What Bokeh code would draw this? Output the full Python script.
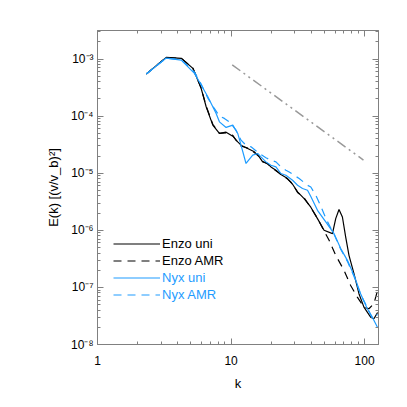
from bokeh.plotting import figure
from bokeh.models import (LogAxis, FixedTicker, CustomJSTickFormatter, Legend, LegendItem, Range1d)
from bokeh.embed import file_html
from bokeh.resources import INLINE

# ---- data ----
enzo_uni_k = [2.32, 3.27, 4.24, 5.18, 5.97, 6.51, 7.30, 8.18, 9.18, 10.30, 11.22, 11.87, 13.32, 14.93,
              16.26, 17.24, 18.79, 19.88, 21.67, 23.61, 26.49, 28.87, 31.46, 35.24, 39.54, 44.36, 49.69,
              57.41, 60.75, 64.29, 68.17, 72.15, 76.35, 83.21, 90.68, 98.8, 110.9, 117.3, 125.0]
enzo_uni_E = [5.46e-4, 1.07e-3, 1.03e-3, 6.87e-4, 3.06e-4, 1.46e-4, 6.95e-5, 4.97e-5, 5.24e-5, 4.46e-5,
              3.54e-5, 3.10e-5, 2.71e-5, 2.37e-5, 1.93e-5, 1.58e-5, 1.48e-5, 1.29e-5, 1.13e-5, 9.48e-6,
              8.07e-6, 6.41e-6, 4.70e-6, 3.60e-6, 2.54e-6, 1.60e-6, 1.0e-6, 8.75e-7, 1.60e-6, 2.31e-6,
              1.71e-6, 7.62e-7, 3.64e-7, 1.74e-7, 7.75e-8, 4.51e-8, 3.01e-8, 2.83e-8, 3.64e-8]

enzo_amr_k = [2.32, 3.27, 4.24, 5.18, 5.97, 6.51, 7.30, 8.18, 9.18, 10.30, 11.22, 11.87, 13.32, 14.93,
              16.26, 17.24, 18.79, 19.88, 21.67, 23.61, 26.49, 28.87, 31.46, 35.24, 39.54, 44.36, 48.6,
              54.2, 60.75, 70.1, 78.6, 88.2, 98.8, 107.7, 117.3, 125.0]
enzo_amr_E = [5.46e-4, 1.07e-3, 1.03e-3, 6.9e-4, 3.1e-4, 1.5e-4, 7.2e-5, 5.0e-5, 5.1e-5, 4.6e-5,
              3.4e-5, 3.0e-5, 2.75e-5, 2.3e-5, 1.95e-5, 1.62e-5, 1.45e-5, 1.3e-5, 1.1e-5, 9.6e-6,
              7.9e-6, 6.5e-6, 4.6e-6, 3.7e-6, 2.5e-6, 1.62e-6, 1.08e-6,
              6.68e-7, 3.64e-7, 1.99e-7, 1.08e-7, 6.76e-8, 4.51e-8, 4.23e-8, 5.18e-8, 8.86e-8]

nyx_uni_k = [2.32, 3.27, 4.24, 5.32, 5.97, 6.70, 7.73, 8.18, 9.18, 10.30, 11.22, 11.87, 12.94, 14.52,
             15.82, 16.74, 18.24, 19.88, 21.67, 23.61, 25.73, 28.87, 31.46, 34.28, 37.36, 39.54, 44.36,
             51.17, 59.0, 66.2, 74.3, 83.21, 93.3, 104.7, 114.2, 125.0]
nyx_uni_E = [5.46e-4, 1.04e-3, 9.59e-4, 5.61e-4, 3.50e-4, 2.18e-4, 1.11e-4, 7.94e-5, 6.34e-5, 6.95e-5,
             4.97e-5, 3.10e-5, 1.48e-5, 2.07e-5, 2.22e-5, 1.93e-5, 1.58e-5, 1.38e-5, 1.29e-5, 9.89e-6,
             9.23e-6, 7.53e-6, 6.15e-6, 5.40e-6, 5.04e-6, 3.9e-6, 2.24e-6, 1.40e-6, 8.75e-7, 4.78e-7,
             2.98e-7, 1.63e-7, 7.75e-8, 4.23e-8, 3.01e-8, 1.99e-8]

nyx_amr_k = [2.32, 3.27, 4.24, 5.32, 5.97, 6.70, 7.47, 8.18, 8.91, 9.71, 10.90, 11.87, 12.94, 14.10,
             16.26, 18.24, 19.88, 21.67, 23.61, 25.73, 27.24, 32.34, 37.36, 39.54, 43.09, 46.94, 52.04,
             59.0, 66.2, 74.3, 83.21, 93.3, 104.7, 114.2, 125.0]
nyx_amr_E = [5.46e-4, 1.04e-3, 9.59e-4, 5.92e-4, 3.64e-4, 2.07e-4, 1.38e-4, 1.0e-4, 9.12e-5, 7.94e-5,
             5.67e-5, 3.79e-5, 3.10e-5, 2.90e-5, 2.22e-5, 1.87e-5, 1.69e-5, 1.58e-5, 1.29e-5, 1.13e-5,
             1.05e-5, 8.07e-6, 6.15e-6, 5.75e-6, 4.11e-6, 2.64e-6, 1.50e-6, 8.51e-7, 4.65e-7, 2.86e-7,
             1.56e-7, 7.53e-8, 4.46e-8, 2.86e-8, 3.36e-8]

ref_k = [10.2, 98.0]
ref_E = [7.9e-4, 1.7e-5]

x_major = [1, 10, 100]
y_major = [1e-8, 1e-7, 1e-6, 1e-5, 1e-4, 1e-3]
y_labels = ["10\u207b\u2078", "10\u207b\u2077", "10\u207b\u2076", "10\u207b\u2075", "10\u207b\u2074", "10\u207b\u00b3"]

# ---- figure ----
FONT = "Liberation Sans"
AX = "#808080"
BLUE = "#1e9cff"

x_minor = [m * 10 ** e for e in range(0, 3) for m in range(2, 10) if m * 10 ** e < 130]
y_minor = [m * 10.0 ** e for e in range(-8, -2) for m in range(2, 10)]

p = figure(width=399, height=399, x_axis_type="log", y_axis_type="log",
           x_range=Range1d(1, 127), y_range=Range1d(1e-8, 3.16e-3),
           output_backend="svg", toolbar_location=None,
           min_border_left=97, min_border_right=21, min_border_top=30, min_border_bottom=55)
p.grid.visible = False
p.outline_line_color = AX
p.background_fill_color = "white"
p.border_fill_color = "white"

xt = FixedTicker(ticks=x_major, minor_ticks=x_minor)
yt = FixedTicker(ticks=y_major, minor_ticks=y_minor)
blank = CustomJSTickFormatter(code="return ''")


def style(ax):
    ax.axis_line_color = AX
    ax.major_tick_line_color = AX
    ax.minor_tick_line_color = AX
    ax.major_tick_in = 6
    ax.major_tick_out = 0
    ax.minor_tick_in = 3
    ax.minor_tick_out = 0
    ax.major_label_text_font = FONT
    ax.major_label_text_font_size = "12px"
    ax.major_label_text_color = "black"
    ax.axis_label_text_font = FONT
    ax.axis_label_text_font_size = "13px"
    ax.axis_label_text_font_style = "normal"
    ax.axis_label_text_color = "black"


xa = p.xaxis[0]
xa.ticker = xt
xa.major_label_overrides = {1: "1", 10: "10", 100: "100"}
xa.axis_label = "k"
xa.major_label_standoff = 11
xa.axis_label_standoff = 8
style(xa)

ya = p.yaxis[0]
ya.ticker = yt
ya.major_label_overrides = dict(zip(y_major, y_labels))
ya.axis_label = "E(k) [(v/v_b)\u00b2]"
ya.major_label_standoff = 4
ya.axis_label_standoff = 7
style(ya)

ra = LogAxis(ticker=yt, formatter=blank)
style(ra)
ra.major_label_text_font_size = "1px"
p.add_layout(ra, "right")
ta = LogAxis(ticker=xt, formatter=blank)
style(ta)
ta.major_label_text_font_size = "1px"
p.add_layout(ta, "above")

# ---- lines ----
p.line(ref_k, ref_E, line_color="#999999", line_width=1.5, line_dash="10 4 2 4 2 4")
r_eu = p.line(enzo_uni_k, enzo_uni_E, line_color="black", line_width=1.2)
r_ea = p.line(enzo_amr_k, enzo_amr_E, line_color="black", line_width=1.2, line_dash="8 6")
r_nu = p.line(nyx_uni_k, nyx_uni_E, line_color=BLUE, line_width=1.2)
r_na = p.line(nyx_amr_k, nyx_amr_E, line_color=BLUE, line_width=1.2, line_dash="8 6")


def mk_legend(items, color, y):
    lg = Legend(items=items, location=(16, y), glyph_width=47, glyph_height=17, label_height=17,
                spacing=0, padding=0, margin=0, label_standoff=2,
                border_line_alpha=0, background_fill_alpha=0,
                label_text_font=FONT, label_text_font_size="13px", label_text_color=color)
    p.add_layout(lg, "center")


mk_legend([LegendItem(label="Enzo uni", renderers=[r_eu]),
           LegendItem(label="Enzo AMR", renderers=[r_ea])], "black", 75)
mk_legend([LegendItem(label="Nyx uni", renderers=[r_nu]),
           LegendItem(label="Nyx AMR", renderers=[r_na])], BLUE, 41)

open("out.html", "w").write(file_html(p, INLINE))
